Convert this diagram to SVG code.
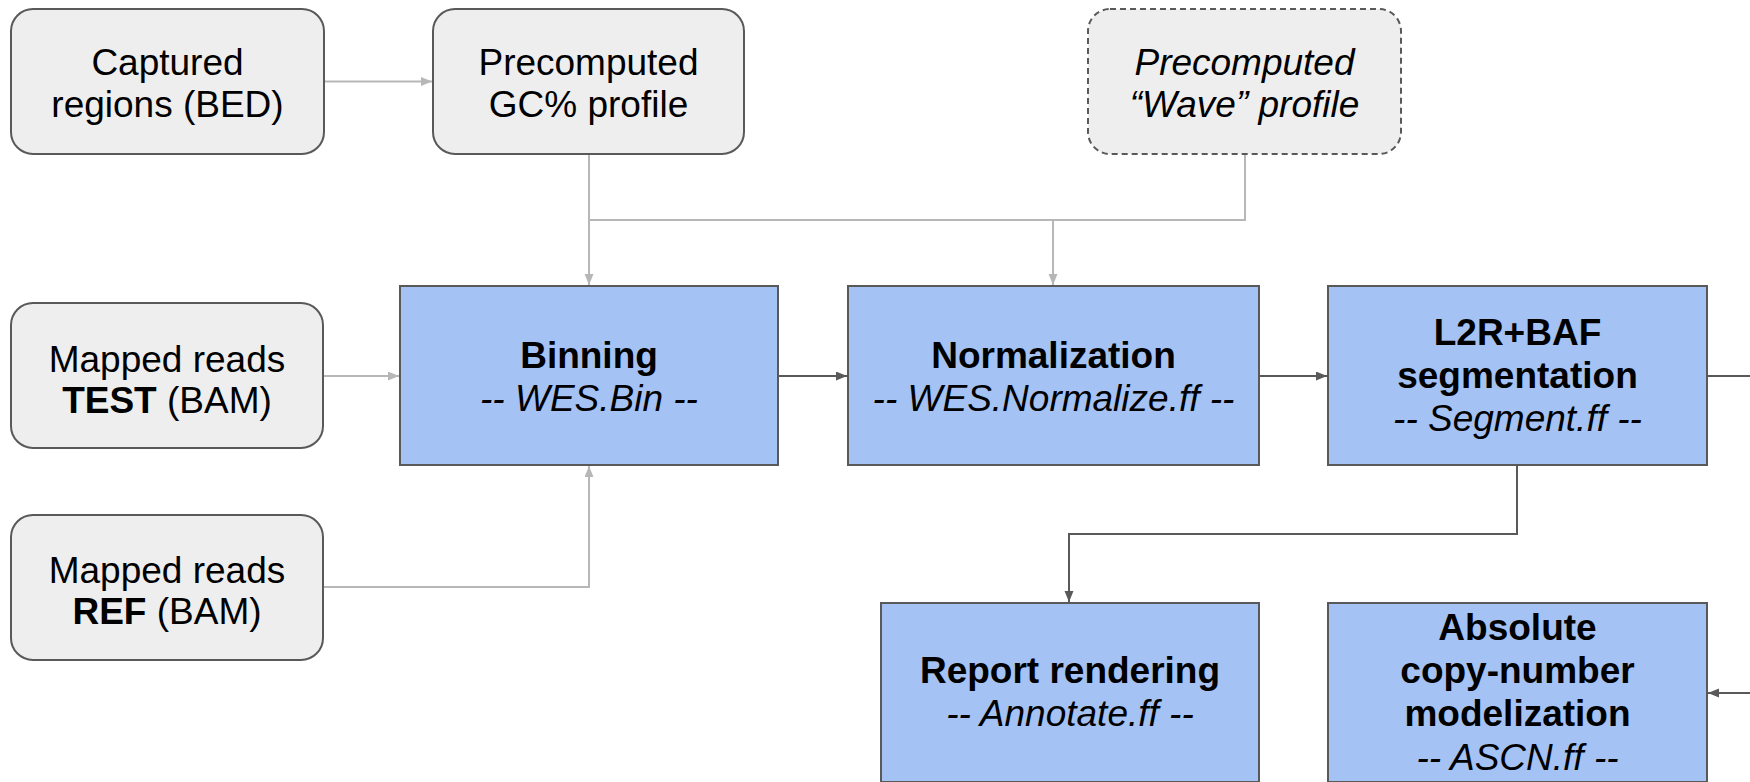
<svg xmlns="http://www.w3.org/2000/svg" width="1750" height="782" viewBox="0 0 1750 782">
<style>
.gray{fill:#eeeeee;stroke:#595959;stroke-width:2}
.dash{fill:#eeeeee;stroke:#595959;stroke-width:2;stroke-dasharray:6 4}
.blue{fill:#a4c2f4;stroke:#595959;stroke-width:2}
.t{font-family:"Liberation Sans",Arial,sans-serif;fill:#000;text-anchor:middle}
.g{font-size:37px}
.b{font-size:37px}
.bold{font-weight:bold}
.it{font-style:italic}
.lc{fill:none;stroke:#b7b7b7;stroke-width:2}
.dc{fill:none;stroke:#595959;stroke-width:2}
</style>
<defs>
<marker id="al" markerUnits="userSpaceOnUse" markerWidth="12" markerHeight="10" refX="11" refY="4.5" orient="auto">
<path d="M0,0 L11,4.5 L0,9 z" fill="#b7b7b7"/>
</marker>
<marker id="ad" markerUnits="userSpaceOnUse" markerWidth="12" markerHeight="10" refX="11" refY="4.5" orient="auto">
<path d="M0,0 L11,4.5 L0,9 z" fill="#595959"/>
</marker>
</defs>
<g id="connectors">
<path class="lc" d="M324,81.5 H432" marker-end="url(#al)"/>
<path class="lc" d="M589,155 V285" marker-end="url(#al)"/>
<path class="lc" d="M589,220 H1245 V155"/>
<path class="lc" d="M1053,220 V285" marker-end="url(#al)"/>
<path class="lc" d="M324,376 H399" marker-end="url(#al)"/>
<path class="lc" d="M324,587 H589 V466" marker-end="url(#al)"/>
<path class="dc" d="M778,376 H847" marker-end="url(#ad)"/>
<path class="dc" d="M1259,376 H1327" marker-end="url(#ad)"/>
<path class="dc" d="M1707,376 H1750"/>
<path class="dc" d="M1517,466 V534 H1069 V602" marker-end="url(#ad)"/>
<path class="dc" d="M1750,693 H1708" marker-end="url(#ad)"/>
</g>
<g id="captured">
<rect class="gray" x="11" y="9" width="313" height="145" rx="22"/>
<text class="t g" x="167.5" y="75">Captured</text>
<text class="t g" x="167.5" y="117">regions (BED)</text>
</g>
<g id="gc">
<rect class="gray" x="433" y="9" width="311" height="145" rx="22"/>
<text class="t g" x="588.5" y="75">Precomputed</text>
<text class="t g" x="588.5" y="117">GC% profile</text>
</g>
<g id="wave">
<rect class="dash" x="1088" y="9" width="313" height="145" rx="22"/>
<text class="t g it" x="1244.5" y="75">Precomputed</text>
<text class="t g it" x="1244.5" y="117">“Wave” profile</text>
</g>
<g id="test">
<rect class="gray" x="11" y="303" width="312" height="145" rx="22"/>
<text class="t g" x="167" y="372">Mapped reads</text>
<text class="t g" x="167" y="413"><tspan class="bold">TEST</tspan> (BAM)</text>
</g>
<g id="ref">
<rect class="gray" x="11" y="515" width="312" height="145" rx="22"/>
<text class="t g" x="167" y="583">Mapped reads</text>
<text class="t g" x="167" y="624"><tspan class="bold">REF</tspan> (BAM)</text>
</g>
<g id="binning">
<rect class="blue" x="400" y="286" width="378" height="179"/>
<text class="t b bold" x="589" y="368">Binning</text>
<text class="t b it" x="589" y="411">-- WES.Bin --</text>
</g>
<g id="normalization">
<rect class="blue" x="848" y="286" width="411" height="179"/>
<text class="t b bold" x="1053.5" y="368">Normalization</text>
<text class="t b it" x="1053.5" y="411">-- WES.Normalize.ff --</text>
</g>
<g id="segmentation">
<rect class="blue" x="1328" y="286" width="379" height="179"/>
<text class="t b bold" x="1517.5" y="345">L2R+BAF</text>
<text class="t b bold" x="1517.5" y="388">segmentation</text>
<text class="t b it" x="1517.5" y="431">-- Segment.ff --</text>
</g>
<g id="report">
<rect class="blue" x="881" y="603" width="378" height="179"/>
<text class="t b bold" x="1070" y="683">Report rendering</text>
<text class="t b it" x="1070" y="726">-- Annotate.ff --</text>
</g>
<g id="absolute">
<rect class="blue" x="1328" y="603" width="379" height="179"/>
<text class="t b bold" x="1517.5" y="640">Absolute</text>
<text class="t b bold" x="1517.5" y="683">copy-number</text>
<text class="t b bold" x="1517.5" y="726">modelization</text>
<text class="t b it" x="1517.5" y="770">-- ASCN.ff --</text>
</g>
</svg>
